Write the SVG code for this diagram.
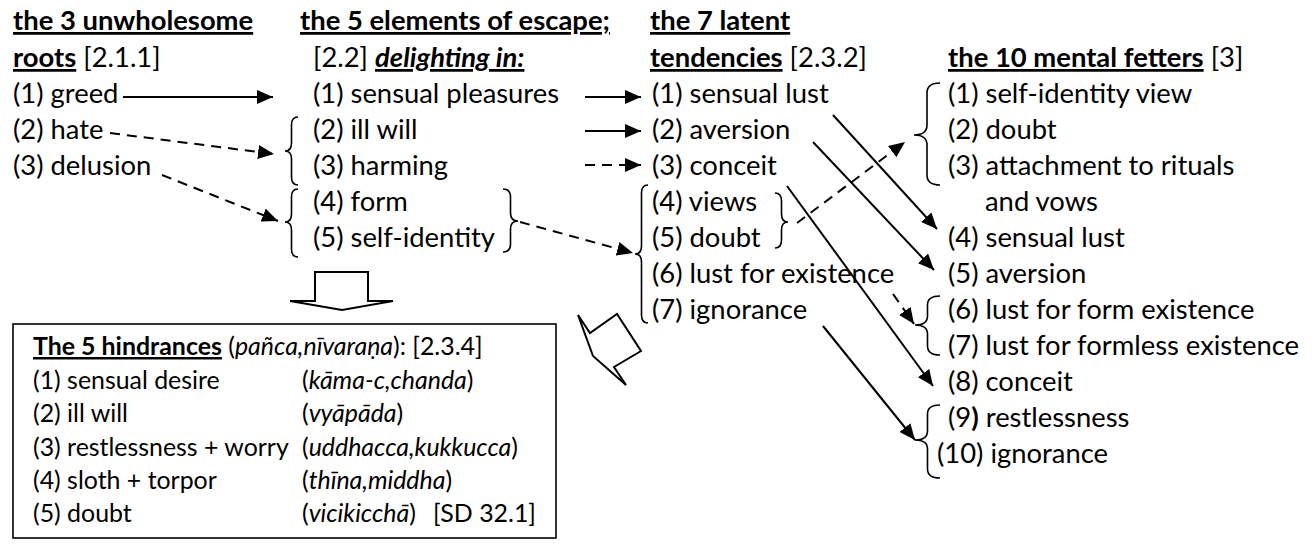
<svg xmlns="http://www.w3.org/2000/svg" width="1313" height="544" viewBox="0 0 1313 544">
<style>
text{font-family:Lato,"Liberation Sans",sans-serif;font-size:27.4px;fill:#000}
.b{font-weight:bold}
.u{text-decoration:underline}
.i{font-style:italic}
.sm{font-size:24.9px}
.ln{stroke:#000;stroke-width:2;fill:none}
.dash{stroke-dasharray:10,7}
.br{stroke:#000;stroke-width:1.6;fill:none}
.blk{stroke:#000;stroke-width:2;fill:#fff;stroke-linejoin:miter}
</style>
<defs>
<marker id="ah" viewBox="0 0 16 14" refX="16" refY="7" markerWidth="16" markerHeight="14" markerUnits="userSpaceOnUse" orient="auto">
<path d="M0,0 L16,7 L0,14 z" fill="#000"/>
</marker>
</defs>
<rect width="1313" height="544" fill="#fff"/>

<g id="roots">
<text x="13" y="30" class="b u">the 3 unwholesome</text>
<text x="13" y="67"><tspan class="b u">roots</tspan> [2.1.1]</text>
<text x="13" y="103">(1) greed</text>
<text x="13" y="139">(2) hate</text>
<text x="13" y="175">(3) delusion</text>
</g>

<g id="escape">
<text x="300" y="30" class="b u">the 5 elements of escape;</text>
<text x="313" y="67">[2.2] <tspan class="b i u">delighting in:</tspan></text>
<text x="313" y="103">(1) sensual pleasures</text>
<text x="313" y="139">(2) ill will</text>
<text x="313" y="175">(3) harming</text>
<text x="313" y="211">(4) form</text>
<text x="313" y="247">(5) self-identity</text>
<path class="br" d="M298,117 Q291.5,117 291.5,125 L291.5,143 Q291.5,151 285,151 Q291.5,151 291.5,159 L291.5,177 Q291.5,185 298,185"/>
<path class="br" d="M298,189 Q291.5,189 291.5,197 L291.5,214 Q291.5,222 285,222 Q291.5,222 291.5,230 L291.5,249 Q291.5,257 298,257"/>
<path class="br" d="M503,189 Q510.5,189 510.5,197 L510.5,213 Q510.5,221 518,221 Q510.5,221 510.5,229 L510.5,244 Q510.5,252 503,252"/>
</g>

<g id="latent">
<text x="650" y="30" class="b u">the 7 latent</text>
<text x="650" y="67"><tspan class="b u">tendencies</tspan> [2.3.2]</text>
<text x="652" y="103">(1) sensual lust</text>
<text x="652" y="139">(2) aversion</text>
<text x="652" y="175">(3) conceit</text>
<text x="652" y="211">(4) views</text>
<text x="652" y="247">(5) doubt</text>
<text x="652" y="283">(6) lust for existence</text>
<text x="652" y="319">(7) ignorance</text>
<path class="br" d="M648,185 Q641.5,185 641.5,193 L641.5,246 Q641.5,254 635,254 Q641.5,254 641.5,262 L641.5,315 Q641.5,323 648,323"/>
<path class="br" d="M775,193 Q781.5,193 781.5,201 L781.5,214 Q781.5,222 788,222 Q781.5,222 781.5,230 L781.5,240 Q781.5,248 775,248"/>
</g>

<g id="fetters">
<text x="948" y="67"><tspan class="b u">the 10 mental fetters</tspan> [3]</text>
<text x="948" y="103">(1) self-identity view</text>
<text x="948" y="139">(2) doubt</text>
<text x="948" y="175">(3) attachment to rituals</text>
<text x="985" y="211">and vows</text>
<text x="948" y="247">(4) sensual lust</text>
<text x="948" y="283">(5) aversion</text>
<text x="948" y="319">(6) lust for form existence</text>
<text x="948" y="355">(7) lust for formless existence</text>
<text x="948" y="391">(8) conceit</text>
<text x="948" y="427">(9<tspan class="b">)</tspan> restlessness</text>
<text x="937" y="463">(10) ignorance</text>
<path class="br" d="M940,83 Q927,83 927,93 L927,125 Q927,135 914,135 Q927,135 927,145 L927,175 Q927,185 940,185"/>
<path class="br" d="M940,296 Q927.5,296 927.5,305 L927.5,316 Q927.5,325 915,325 Q927.5,325 927.5,334 L927.5,346 Q927.5,355 940,355"/>
<path class="br" d="M940,405 Q927.5,405 927.5,414 L927.5,431 Q927.5,440 915,440 Q927.5,440 927.5,449 L927.5,469 Q927.5,478 940,478"/>
</g>

<g id="hindrances">
<rect x="13" y="324" width="543" height="214" fill="none" stroke="#000" stroke-width="1.6"/>
<text x="33" y="355" class="sm"><tspan class="b u">The 5 hindrances</tspan> (<tspan class="i">pañca,nīvaraṇa</tspan>): [2.3.4]</text>
<text x="33" y="389" class="sm">(1) sensual desire</text>
<text x="33" y="422" class="sm">(2) ill will</text>
<text x="33" y="456" class="sm">(3) restlessness + worry</text>
<text x="33" y="489" class="sm">(4) sloth + torpor</text>
<text x="33" y="522" class="sm">(5) doubt</text>
<text x="302" y="389" class="sm">(<tspan class="i">kāma-c,chanda</tspan>)</text>
<text x="302" y="422" class="sm">(<tspan class="i">vyāpāda</tspan>)</text>
<text x="302" y="456" class="sm">(<tspan class="i">uddhacca,kukkucca</tspan>)</text>
<text x="302" y="489" class="sm">(<tspan class="i">thīna,middha</tspan>)</text>
<text x="302" y="522" class="sm">(<tspan class="i">vicikicchā</tspan>)<tspan x="433">[SD 32.1]</tspan></text>
</g>

<g id="block-arrows">
<polygon class="blk" points="315,272 368,272 368,301 393,301 342,310 290,301 315,301"/>
<polygon class="blk" points="578,315 590,333 617,314 641,351 614,367 626,385 593,356"/>
</g>

<g id="connectors">
<line class="ln" x1="123" y1="97" x2="273" y2="97" marker-end="url(#ah)"/>
<line class="ln dash" x1="110" y1="133" x2="274" y2="154" marker-end="url(#ah)"/>
<line class="ln dash" x1="162" y1="175" x2="278" y2="221" marker-end="url(#ah)"/>
<line class="ln" x1="585" y1="97" x2="641" y2="97" marker-end="url(#ah)"/>
<line class="ln" x1="585" y1="131" x2="641" y2="131" marker-end="url(#ah)"/>
<line class="ln dash" x1="585" y1="165" x2="641" y2="165" marker-end="url(#ah)"/>
<line class="ln dash" x1="520" y1="222" x2="633" y2="253" marker-end="url(#ah)"/>
<line class="ln" x1="833" y1="115" x2="937" y2="229" marker-end="url(#ah)"/>
<line class="ln" x1="813" y1="142" x2="934" y2="270" marker-end="url(#ah)"/>
<line class="ln" x1="787" y1="186" x2="933" y2="386" marker-end="url(#ah)"/>
<line class="ln dash" x1="797" y1="223" x2="905" y2="142" marker-end="url(#ah)"/>
<line class="ln dash" x1="893" y1="294" x2="914" y2="324" marker-end="url(#ah)"/>
<line class="ln" x1="823" y1="326" x2="915" y2="440" marker-end="url(#ah)"/>
</g>
</svg>
